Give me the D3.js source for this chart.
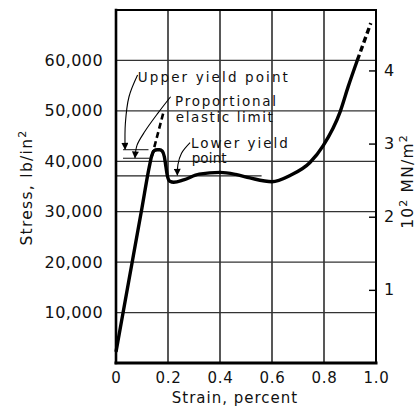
<!DOCTYPE html>
<html>
<head>
<meta charset="utf-8">
<script src="https://cdn.jsdelivr.net/npm/d3@7"></script>
<style>
  html, body { margin: 0; padding: 0; background: #fff; }
  svg { display: block; }
  text { font-family: "DejaVu Sans", sans-serif; fill: #111; }
</style>
</head>
<body>
<svg id="chart" width="420" height="408"></svg>
<script>
// Stress–strain curve of mild steel (strain in percent, stress in lb/in²)
const strain = [0, 0.05, 0.10, 0.128, 0.138, 0.147, 0.158, 0.168, 0.178, 0.186, 0.192, 0.198,
                0.207, 0.222, 0.26, 0.32, 0.40, 0.46, 0.515, 0.60, 0.67, 0.746, 0.797, 0.862, 0.893, 0.928];
const stress = [2200, 16500, 30800, 38900, 41200, 42100, 42300, 42300, 42000, 40900, 38900, 37000,
                36050, 35850, 36300, 37450, 37800, 37400, 36700, 35950, 37200, 39750, 43100, 49800, 54800, 60000];

// dashed continuation beyond the last measured point
const tailStrain = [0.928, 0.98];
const tailStress = [60000, 67400];

// dashed extension of the proportional (straight) part
const propStrain = [0.138, 0.182];
const propStress = [41000, 49600];

// reference levels
const upperYield = 42300;
const propLimit = 40600;
const lowerYield = 37100;

// axis ticks
const xTicks = [0, 0.2, 0.4, 0.6, 0.8, 1.0];
const xTickLabels = ["0", "0.2", "0.4", "0.6", "0.8", "1.0"];
const yTicks = [10000, 20000, 30000, 40000, 50000, 60000];
const mnTicks = [1, 2, 3, 4];          // 10² MN/m²
const psiPerHundredMN = 14503.8;

const svg = d3.select("#chart");
const x = d3.scaleLinear().domain([0, 1]).range([116, 376]);
const y = d3.scaleLinear().domain([0, 70000]).range([363, 10]);
const y2 = d3.scaleLinear().domain([0, 70000 / psiPerHundredMN]).range([363, 10]);

// grid
const grid = svg.append("g");
grid.selectAll("line.v").data(xTicks.slice(1, -1)).join("line")
  .attr("x1", d => x(d)).attr("x2", d => x(d))
  .attr("y1", y(0)).attr("y2", y(70000))
  .attr("stroke", "#111").attr("stroke-width", 1.4);
grid.selectAll("line.h").data(yTicks).join("line")
  .attr("x1", x(0)).attr("x2", x(1))
  .attr("y1", d => y(d)).attr("y2", d => y(d))
  .attr("stroke", "#333").attr("stroke-width", 1.2);

// reference level lines
const ref = svg.append("g").attr("stroke", "#222").attr("stroke-width", 1.1);
ref.append("line").attr("x1", x(0.027)).attr("x2", x(0.125))
  .attr("y1", y(upperYield)).attr("y2", y(upperYield));
ref.append("line").attr("x1", x(0.027)).attr("x2", x(0.13))
  .attr("y1", y(propLimit)).attr("y2", y(propLimit));
ref.append("line").attr("x1", x(0)).attr("x2", x(0.56))
  .attr("y1", y(lowerYield)).attr("y2", y(lowerYield));

// frame
const frame = svg.append("g").attr("stroke", "#000").attr("stroke-linecap", "square");
frame.append("line").attr("x1", x(0)).attr("x2", x(0)).attr("y1", y(0)).attr("y2", y(70000)).attr("stroke-width", 2.6);
frame.append("line").attr("x1", x(0)).attr("x2", x(1)).attr("y1", y(0)).attr("y2", y(0)).attr("stroke-width", 3);
frame.append("line").attr("x1", x(0)).attr("x2", x(1)).attr("y1", y(70000)).attr("y2", y(70000)).attr("stroke-width", 2);
frame.append("line").attr("x1", x(1)).attr("x2", x(1)).attr("y1", y(0)).attr("y2", y(70000)).attr("stroke-width", 2);

// curve
const pts = strain.map((s, i) => [s, stress[i]]);
const line = d3.line().x(d => x(d[0])).y(d => y(d[1])).curve(d3.curveMonotoneX);
svg.append("path").attr("d", line(pts))
  .attr("fill", "none").attr("stroke", "#000").attr("stroke-width", 3.4)
  .attr("stroke-linejoin", "round");
const straight = d3.line().x(d => x(d[0])).y(d => y(d[1]));
svg.append("path").attr("d", straight(tailStrain.map((s, i) => [s, tailStress[i]])))
  .attr("fill", "none").attr("stroke", "#000").attr("stroke-width", 3.4)
  .attr("stroke-dasharray", "6,3.5");
svg.append("path").attr("d", straight(propStrain.map((s, i) => [s, propStress[i]])))
  .attr("fill", "none").attr("stroke", "#000").attr("stroke-width", 2.6)
  .attr("stroke-dasharray", "6,3.5");

// axes
const fs = 16;
const ax = svg.append("g").attr("transform", `translate(${x(0)},0)`)
  .call(d3.axisLeft(y).tickValues(yTicks).tickFormat(d3.format(",")).tickSize(0).tickPadding(13));
ax.select(".domain").remove();
ax.selectAll("text").attr("font-size", fs).attr("font-family", "DejaVu Sans").attr("letter-spacing", 0.4).attr("fill", "#111");

const bx = svg.append("g").attr("transform", `translate(0,${y(0)})`)
  .call(d3.axisBottom(x).tickValues(xTicks).tickFormat((d, i) => xTickLabels[i]).tickSize(0).tickPadding(9));
bx.select(".domain").remove();
bx.selectAll("text").attr("font-size", 15).attr("font-family", "DejaVu Sans").attr("letter-spacing", 0.8).attr("fill", "#111");

const rx = svg.append("g").attr("transform", `translate(${x(1)},0)`)
  .call(d3.axisRight(y2).tickValues(mnTicks).tickFormat(d3.format("d")).tickSize(-7).tickPadding(8));
rx.select(".domain").remove();
rx.selectAll("line").attr("stroke", "#000").attr("stroke-width", 1.4);
rx.selectAll("text").attr("font-size", fs).attr("font-family", "DejaVu Sans").attr("fill", "#111");

// axis titles
const yTitle = svg.append("text")
  .attr("transform", `translate(32,${y(35000) + 1}) rotate(-90)`)
  .attr("text-anchor", "middle").attr("font-size", 15.5).attr("letter-spacing", 1.3);
yTitle.append("tspan").text("Stress, lb/in");
yTitle.append("tspan").attr("dy", -6).attr("font-size", 11).text("2");

const y2Title = svg.append("text")
  .attr("transform", `translate(413,${y(36000)}) rotate(-90)`)
  .attr("text-anchor", "middle").attr("font-size", 15.5).attr("letter-spacing", 1.2);
y2Title.append("tspan").text("10");
y2Title.append("tspan").attr("dy", -6).attr("font-size", 11).text("2");
y2Title.append("tspan").attr("dy", 6).text(" MN/m");
y2Title.append("tspan").attr("dy", -6).attr("font-size", 11).text("2");

svg.append("text").attr("x", x(0.5) - 11).attr("y", 403)
  .attr("text-anchor", "middle").attr("font-size", 15).attr("letter-spacing", 1)
  .text("Strain, percent");

// annotations
const notes = [
  { t: "Upper yield point", s: 0.084, v: 55700, w: 150 },
  { t: "Proportional", s: 0.227, v: 50900, w: 101 },
  { t: "elastic limit", s: 0.23, v: 47700, w: 97 },
  { t: "Lower yield", s: 0.288, v: 42700, w: 97 },
  { t: "point", s: 0.291, v: 39600, w: 35 }
];
svg.selectAll("text.note").data(notes).join("text").attr("class", "note")
  .attr("x", d => x(d.s)).attr("y", d => y(d.v))
  .attr("font-size", 13.5)
  .attr("textLength", d => d.w).attr("lengthAdjust", "spacing")
  .text(d => d.t);

// arrow leaders
svg.append("defs").append("marker")
  .attr("id", "head").attr("viewBox", "0 0 10 10")
  .attr("refX", 9).attr("refY", 5)
  .attr("markerWidth", 9).attr("markerHeight", 7).attr("markerUnits", "userSpaceOnUse")
  .attr("orient", "auto")
  .append("path").attr("d", "M0,0 L10,5 L0,10 Z").attr("fill", "#000");

const leaders = [
  [[0.083, 57100], [0.05, 52800], [0.036, 47500], [0.035, upperYield + 100]],
  [[0.21, 52800], [0.162, 49600], [0.112, 46000], [0.081, 43200], [0.073, propLimit + 100]],
  [[0.285, 43700], [0.252, 41600], [0.238, 39300], [0.236, lowerYield + 150]]
];
const curved = d3.line().x(d => x(d[0])).y(d => y(d[1])).curve(d3.curveCatmullRom.alpha(0.5));
svg.selectAll("path.leader").data(leaders).join("path").attr("class", "leader")
  .attr("d", curved).attr("fill", "none").attr("stroke", "#000").attr("stroke-width", 1.1)
  .attr("marker-end", "url(#head)");
</script>
</body>
</html>
